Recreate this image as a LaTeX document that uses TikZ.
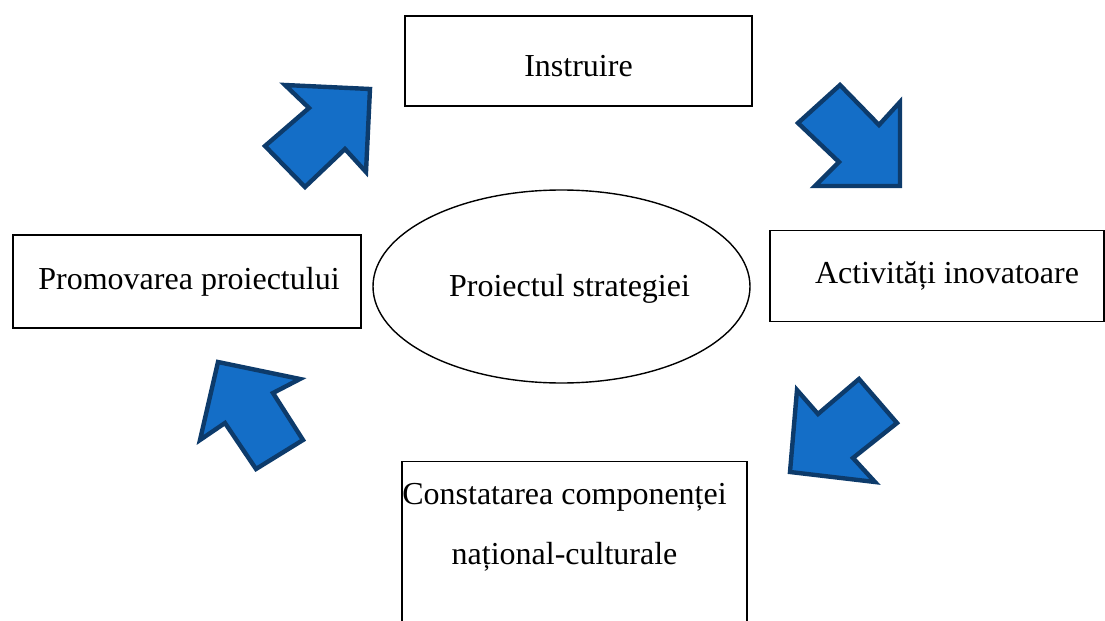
\documentclass[tikz,border=0pt]{standalone}
\usepackage{fontspec}
\setmainfont{Liberation Serif}
\usetikzlibrary{positioning,shapes.geometric}

\tikzset{
  box/.style={draw,line width=0.7pt,rectangle,inner sep=0pt},
  blockarrow/.style={draw=arrowline,fill=arrowfill,line width=2.2pt,line join=miter}
}

\begin{document}
\begin{tikzpicture}[x=0.5pt,y=-0.5pt,font=\fontsize{16}{19}\selectfont]

\definecolor{arrowfill}{rgb}{0.08,0.43,0.78}
\definecolor{arrowline}{rgb}{0.05,0.23,0.42}

\useasboundingbox (0,0) rectangle (1105,621);
\clip (0,0) rectangle (1105,621);

\node[box,minimum width=173.5pt,minimum height=45pt](instr) at (578.5,61){};
\node[box,minimum width=167pt,minimum height=45.5pt](activ) at (937,276){};
\node[box,minimum width=174pt,minimum height=46.5pt](promo) at (187,281.5){};
\node[draw,line width=0.7pt,ellipse,minimum width=188.5pt,minimum height=96.5pt,inner sep=0pt](proj) at (561.5,286.5){};
\node[box,minimum width=172.5pt,minimum height=95pt,anchor=north](const) at (574.5,461){};

\node(instrTxt) at ([yshift=-2.5pt]instr.center){Instruire};
\node(activTxt) at ([xshift=5pt]activ.center){Activități inovatoare};
\node(promoTxt) at ([xshift=1pt]promo.center){Promovarea proiectului};
\node(projTxt) at ([xshift=4pt,yshift=-1pt]proj.center){Proiectul strategiei};
\node[align=center,below=7.5pt of const.north,xshift=-5pt,font=\fontsize{16}{30}\selectfont](constTxt){Constatarea componenței\\național-culturale};

\draw[blockarrow](285,85)--(370,89)--(366,172)--(345,149)--(305,187)--(265,146)--(309,108)--cycle;
\draw[blockarrow](840,85)--(879,125)--(900,102)--(900,186)--(815,186)--(839,162)--(798,123)--cycle;
\draw[blockarrow](797,390)--(818,414)--(859,379)--(897,423)--(853,458)--(875,482)--(790,472)--cycle;
\draw[blockarrow](218,362)--(300,379)--(273,393)--(303,440)--(256,469)--(225,423)--(200,440)--cycle;

\end{tikzpicture}
\end{document}
